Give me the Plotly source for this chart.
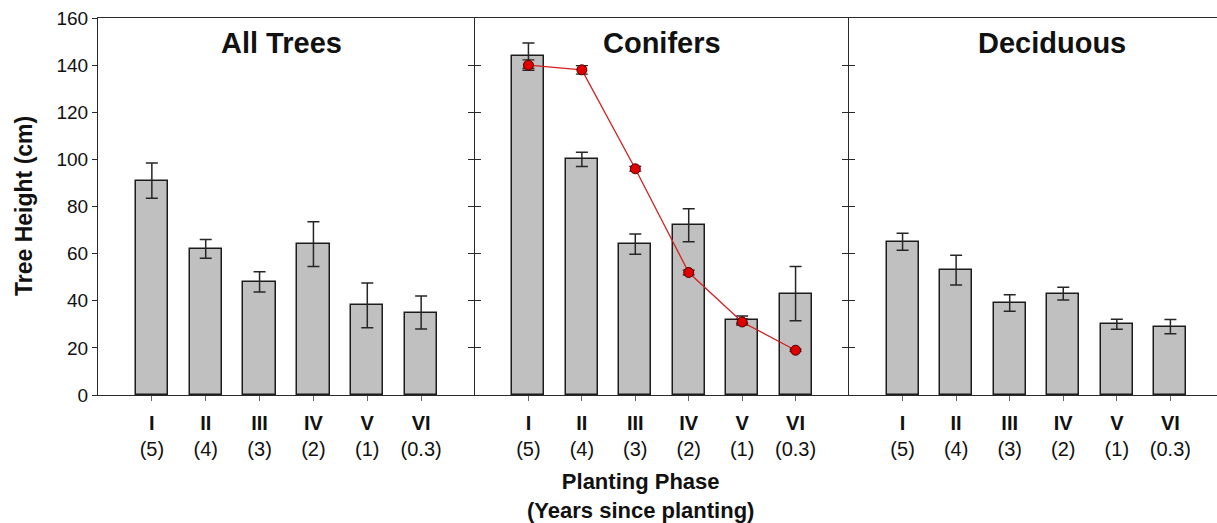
import plotly.graph_objects as go

# ---- data ----
phases = ["I", "II", "III", "IV", "V", "VI"]
years = ["5", "4", "3", "2", "1", "0.3"]
panel_titles = ["All Trees", "Conifers", "Deciduous"]

all_trees = [91, 62, 48, 64, 38, 35]
all_trees_err = [7.5, 4, 4.3, 9.5, 9.5, 7]
conifers = [144, 100, 64, 72, 32, 43]
conifers_err = [5.4, 3, 4.3, 7, 1.5, 11.5]
conifer_line = [140, 138, 96, 52, 31, 19]
conifer_line_err = [2.2, 1.8, 1, 1, 1.3, 0.5]
deciduous = [65, 53, 39, 43, 30, 29]
deciduous_err = [3.6, 6.3, 3.5, 2.7, 2.1, 3]

y_ticks = [0, 20, 40, 60, 80, 100, 120, 140, 160]

# ---- layout geometry ----
W, H = 1217, 523
ML, MR, MT, MB = 98, 0, 18, 128
pw = W - ML - MR
ph = H - MT - MB
div1 = (475 - ML) / pw
div2 = (849 - ML) / pw

FONT = "Liberation Sans, Arial, sans-serif"
xpos = list(range(len(phases)))
ticktext = [f"<b>{p}</b><br>({y})" for p, y in zip(phases, years)]

BAR_FILL = "#c0c0c0"
BAR_EDGE = "#1c1c1c"
ERR_COL = "#262626"
LINE_COL = "#2a2a2a"

fig = go.Figure()

panels = [(all_trees, all_trees_err, "x"), (conifers, conifers_err, "x2"), (deciduous, deciduous_err, "x3")]
for vals, errs, xa in panels:
    fig.add_trace(go.Bar(
        x=xpos, y=vals, xaxis=xa, yaxis="y", width=0.6,
        marker=dict(color=BAR_FILL, line=dict(color=BAR_EDGE, width=1.5)),
        error_y=dict(type="data", array=errs, visible=True, color=ERR_COL, thickness=1.5, width=6),
        showlegend=False, hoverinfo="skip",
    ))

fig.add_trace(go.Scatter(
    x=xpos, y=conifer_line, xaxis="x2", yaxis="y", mode="lines+markers",
    line=dict(color="#d42020", width=1.3),
    marker=dict(color="#e00000", size=10, line=dict(color="#4a0000", width=1)),
    error_y=dict(type="data", array=conifer_line_err, visible=True, color=ERR_COL, thickness=1.3, width=6),
    showlegend=False, hoverinfo="skip",
))

# invisible carriers so the divider axes get drawn
for xa, ya in [("x2", "y2"), ("x2", "y3"), ("x3", "y4"), ("x3", "y5")]:
    fig.add_trace(go.Scatter(x=[0], y=[0], xaxis=xa, yaxis=ya, mode="markers",
                             marker=dict(opacity=0), showlegend=False, hoverinfo="skip"))

xcommon = dict(
    tickvals=xpos, ticktext=ticktext, ticks="outside", ticklen=5, tickcolor="#666",
    showline=True, linecolor=LINE_COL, linewidth=1, mirror=True,
    showgrid=False, zeroline=False, anchor="y", ticklabelstandoff=5,
    tickfont=dict(family=FONT, size=20, color="#111"),
)

yl = dict(range=[0, 160], showgrid=False, zeroline=False, fixedrange=True)
ydiv = dict(tickvals=y_ticks[1:-1], ticklen=6, tickcolor=LINE_COL, showline=True,
            linecolor=LINE_COL, linewidth=1, showticklabels=False, overlaying="y", **yl)

fig.update_layout(
    width=W, height=H,
    margin=dict(l=ML, r=MR, t=MT, b=MB),
    paper_bgcolor="white", plot_bgcolor="white",
    bargap=0, showlegend=False,
    xaxis=dict(domain=[0, div1], range=[-1, 6], **xcommon),
    xaxis2=dict(domain=[div1, div2], range=[-1, 6], **xcommon),
    xaxis3=dict(domain=[div2, 1], range=[-1, 5.87], **xcommon),
    yaxis=dict(anchor="x", tickvals=y_ticks, ticks="outside", ticklen=5, tickcolor=LINE_COL,
               showline=True, linecolor=LINE_COL, linewidth=1,
               tickfont=dict(family=FONT, size=19, color="#111"), **yl),
    yaxis2=dict(anchor="x2", ticks="outside", **ydiv),
    yaxis3=dict(anchor="x2", ticks="inside", **ydiv),
    yaxis4=dict(anchor="x3", ticks="outside", **ydiv),
    yaxis5=dict(anchor="x3", ticks="inside", **ydiv),
)

# panel titles
title_px = [281, 662, 1052]
for t, px in zip(panel_titles, title_px):
    fig.add_annotation(text=f"<b>{t}</b>", xref="paper", yref="paper",
                       x=(px - ML) / pw, y=(MT + ph - 43) / ph, xanchor="center", yanchor="middle",
                       showarrow=False, font=dict(family=FONT, size=29, color="#111"))

# axis titles
fig.add_annotation(text="<b>Planting Phase</b><br><b>(Years since planting)</b>", xref="paper", yref="paper",
                   x=(640 - ML) / pw, y=-(496 - (MT + ph)) / ph, xanchor="center", yanchor="middle",
                   showarrow=False, font=dict(family=FONT, size=22, color="#111"))
fig.add_annotation(text="<b>Tree Height (cm)</b>", xref="paper", yref="paper", textangle=-90,
                   x=(24 - ML) / pw, y=(MT + ph - 206) / ph, xanchor="center", yanchor="middle",
                   showarrow=False, font=dict(family=FONT, size=23, color="#111"))

fig.write_html("out.html")
